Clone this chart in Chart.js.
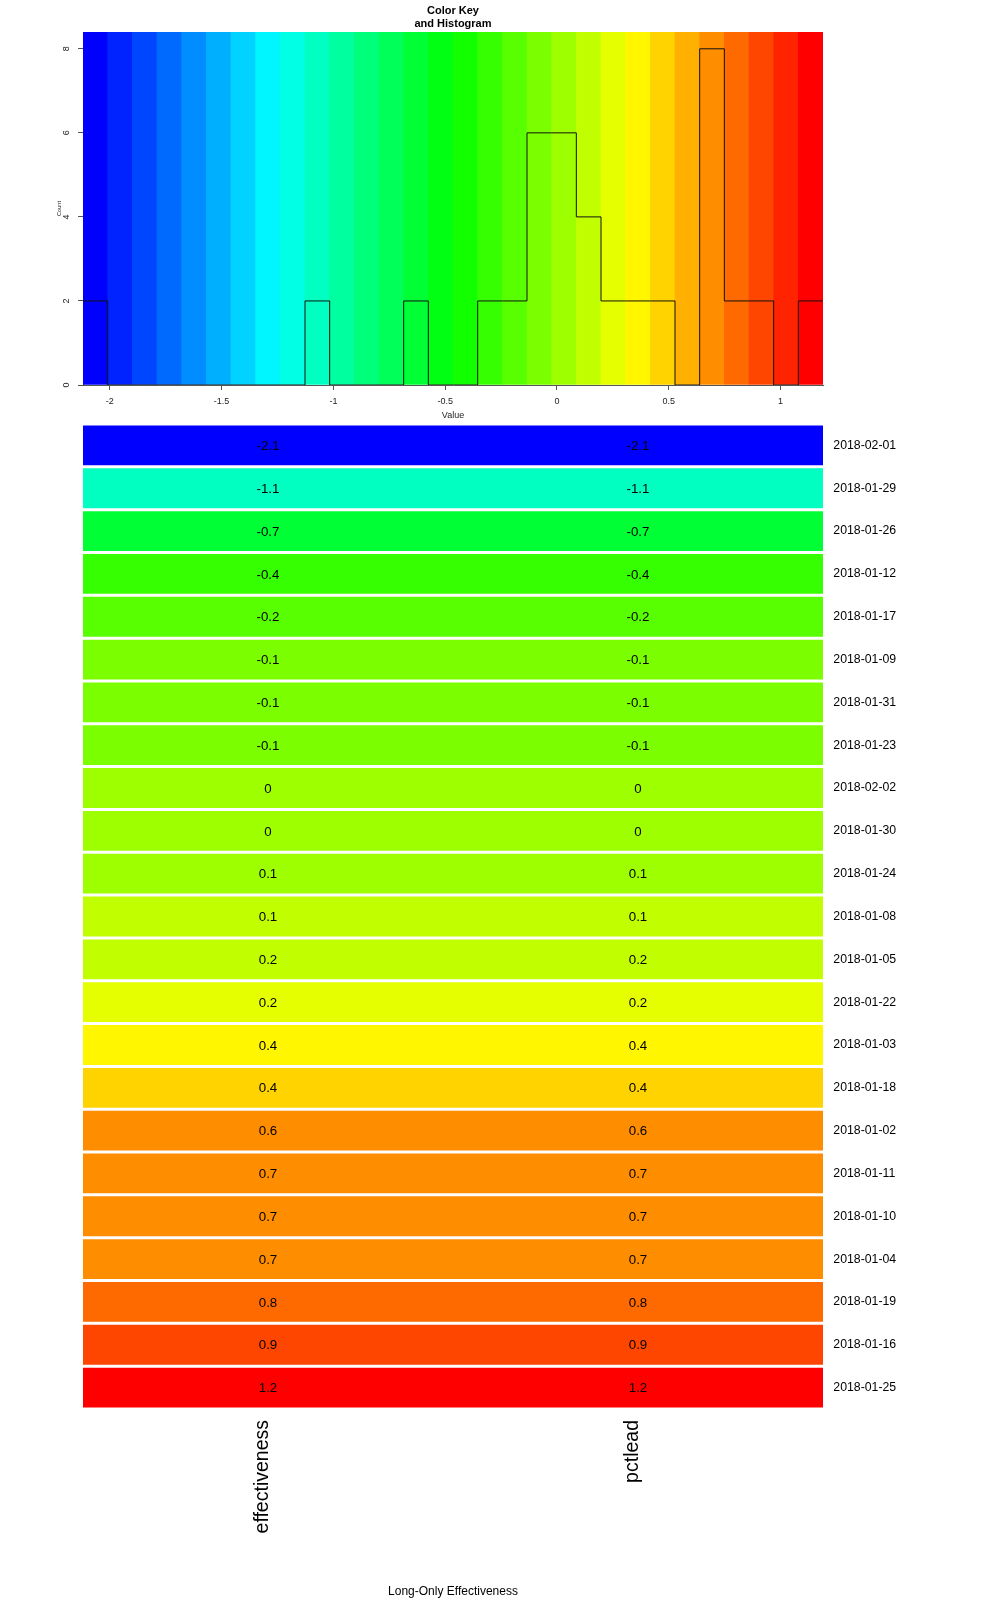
<!DOCTYPE html>
<html>
<head>
<meta charset="utf-8">
<script src="https://cdn.jsdelivr.net/npm/chart.js@4.4.1/dist/chart.umd.min.js"></script>
<style>
  html, body { margin: 0; padding: 0; background: #ffffff; }
  #wrap { position: relative; width: 999px; height: 1600px; overflow: hidden; background: #fff; }
  canvas { position: absolute; left: 0; }
  #key { top: 0; }
  #heat { top: 410px; }
</style>
</head>
<body>
<div id="wrap">
  <canvas id="heat" width="999" height="1190"></canvas>
  <canvas id="key" width="999" height="430"></canvas>
</div>
<script>
// ---------------- data ----------------
const dates = [
  '2018-02-01', '2018-01-29', '2018-01-26', '2018-01-12', '2018-01-17', '2018-01-09',
  '2018-01-31', '2018-01-23', '2018-02-02', '2018-01-30', '2018-01-24', '2018-01-08',
  '2018-01-05', '2018-01-22', '2018-01-03', '2018-01-18', '2018-01-02', '2018-01-11',
  '2018-01-10', '2018-01-04', '2018-01-19', '2018-01-16', '2018-01-25'
];
const effectiveness = [
  -2.12, -1.09, -0.67, -0.352, -0.19, -0.12,
  -0.09, -0.06, -0.01, 0.02, 0.07, 0.12,
  0.16, 0.22, 0.38, 0.43, 0.64, 0.68,
  0.70, 0.72, 0.80, 0.90, 1.19
];
const pctlead = [
  -2.12, -1.09, -0.67, -0.352, -0.19, -0.12,
  -0.09, -0.06, -0.01, 0.02, 0.07, 0.12,
  0.16, 0.22, 0.38, 0.43, 0.64, 0.68,
  0.70, 0.72, 0.80, 0.90, 1.19
];
const columns = ['effectiveness', 'pctlead'];

// colour key: 30 bins between min and max of the data
const keyBreaks = [
  -2.120, -2.0097, -1.8993, -1.7890, -1.6787, -1.5683, -1.4580, -1.3477,
  -1.2373, -1.1270, -1.0167, -0.9063, -0.7960, -0.6857, -0.5753, -0.4650,
  -0.3547, -0.2443, -0.1340, -0.0237, 0.0867, 0.1970, 0.3073, 0.4177,
  0.5280, 0.6383, 0.7487, 0.8590, 0.9693, 1.0797, 1.190
];
const keyColors = [
  '#0000FF', '#0023FF', '#0046FF', '#006AFF', '#008DFF', '#00B0FF', '#00D3FF', '#00F6FF',
  '#00FFE5', '#00FFC1', '#00FF9E', '#00FF7B', '#00FF58', '#00FF35', '#00FF12', '#12FF00',
  '#35FF00', '#58FF00', '#7BFF00', '#9EFF00', '#C1FF00', '#E5FF00', '#FFF600', '#FFD300',
  '#FFB000', '#FF8D00', '#FF6A00', '#FF4600', '#FF2300', '#FF0000'
];
const histCounts = [
  2, 0, 0, 0, 0, 0, 0, 0, 0, 2,
  0, 0, 0, 2, 0, 0, 2, 2, 6, 6,
  4, 2, 2, 2, 0, 8, 2, 2, 0, 2
];
const keyXTicks = [-2, -1.5, -1, -0.5, 0, 0.5, 1];
const keyYTicks = [0, 2, 4, 6, 8];
const keyYMax = 8.4;

// ---------------- helpers ----------------
const FONT = '"Liberation Sans", Arial, Helvetica, sans-serif';
Chart.defaults.font.family = FONT;
Chart.defaults.color = '#000';
Chart.defaults.animation = false;

function colorFor(v) {
  for (let k = 0; k < keyColors.length; k++) {
    if (v >= keyBreaks[k] && v < keyBreaks[k + 1]) return keyColors[k];
  }
  return v < keyBreaks[0] ? keyColors[0] : keyColors[keyColors.length - 1];
}
function fmt(v) { return String(Math.round(v * 10) / 10); }
function noPad(s) { s.paddingTop = 0; s.paddingBottom = 0; s.paddingLeft = 0; s.paddingRight = 0; }

const PLOT_RIGHT_GAP = 176; // chart area right edge at x = 823

// ---------------- colour key + histogram ----------------
const bandData = keyColors.map((c, k) => ({ x: (keyBreaks[k] + keyBreaks[k + 1]) / 2, y: keyYMax }));
const stepData = keyBreaks.map((b, k) => ({ x: b, y: histCounts[Math.min(k, histCounts.length - 1)] }));

const keyYLabels = {
  id: 'keyYLabels',
  afterDraw(chart) {
    const s = chart.scales.y;
    const ctx = chart.ctx;
    ctx.save();
    ctx.font = '9px ' + FONT;
    ctx.fillStyle = '#222';
    ctx.textAlign = 'center';
    ctx.textBaseline = 'middle';
    keyYTicks.forEach(v => {
      const py = s.getPixelForValue(v);
      ctx.save();
      ctx.translate(s.right - 16.3, py);
      ctx.rotate(-Math.PI / 2);
      ctx.fillText(String(v), 0, 0);
      ctx.restore();
    });
    ctx.restore();
  }
};

new Chart(document.getElementById('key'), {
  type: 'bar',
  data: {
    datasets: [
      {
        type: 'line',
        data: stepData,
        stepped: true,
        borderColor: '#111',
        borderWidth: 1,
        pointRadius: 0,
        fill: false,
        order: 0
      },
      {
        type: 'bar',
        data: bandData,
        backgroundColor: keyColors,
        borderWidth: 0,
        barPercentage: 1,
        categoryPercentage: 1,
        order: 1
      }
    ]
  },
  options: {
    responsive: false,
    devicePixelRatio: 1,
    animation: false,
    events: [],
    layout: { padding: { left: 0, right: PLOT_RIGHT_GAP, top: 0, bottom: 0 } },
    plugins: {
      legend: { display: false },
      tooltip: { enabled: false },
      title: {
        display: true,
        text: ['Color Key', 'and Histogram'],
        fullSize: false,
        color: '#000',
        font: { size: 11, weight: 'bold', lineHeight: 13 / 11 },
        padding: { top: 4, bottom: 2 }
      }
    },
    scales: {
      x: {
        type: 'linear',
        position: 'bottom',
        offset: false,
        min: keyBreaks[0],
        max: keyBreaks[keyBreaks.length - 1],
        afterBuildTicks: s => { s.ticks = keyXTicks.map(v => ({ value: v })); },
        afterFit: s => { s.height = 45; noPad(s); },
        ticks: {
          font: { size: 9 },
          color: '#222',
          padding: 6.3,
          maxRotation: 0,
          autoSkip: false,
          callback: v => String(v)
        },
        grid: { display: true, offset: false, drawOnChartArea: false, drawTicks: true, tickLength: 5, color: '#555' },
        border: { display: true, color: '#555' },
        title: { display: true, text: 'Value', color: '#222', font: { size: 9 }, padding: { top: 0, bottom: 8.9 } }
      },
      y: {
        type: 'linear',
        position: 'left',
        min: 0,
        max: keyYMax,
        afterBuildTicks: s => { s.ticks = keyYTicks.map(v => ({ value: v })); },
        afterFit: s => { s.width = 83; noPad(s); },
        ticks: { display: false },
        grid: { display: true, drawOnChartArea: false, drawTicks: true, tickLength: 5, color: '#555' },
        border: { display: true, color: '#555' },
        title: { display: true, text: 'Count', color: '#222', font: { size: 5.6 }, padding: { top: 55.6, bottom: 0 } }
      }
    }
  },
  plugins: [keyYLabels]
});

// ---------------- heatmap ----------------
const cellText = {
  id: 'cellText',
  afterDatasetsDraw(chart) {
    const ctx = chart.ctx;
    ctx.save();
    ctx.font = '13.3px ' + FONT;
    ctx.fillStyle = '#000';
    ctx.textAlign = 'center';
    ctx.textBaseline = 'middle';
    chart.data.datasets.forEach((ds, i) => {
      const meta = chart.getDatasetMeta(i);
      meta.data.forEach((bar, j) => {
        const p = bar.getProps(['x', 'y', 'base'], true);
        ctx.fillText(ds.cellLabels[j], (p.x + p.base) / 2, p.y + 1);
      });
    });
    ctx.restore();
  }
};

const seriesList = [effectiveness, pctlead];
new Chart(document.getElementById('heat'), {
  type: 'bar',
  data: {
    labels: dates,
    datasets: seriesList.map((vals, c) => ({
      label: columns[c],
      data: vals.map(() => [c, c + 1]),
      cellLabels: vals.map(fmt),
      backgroundColor: vals.map(colorFor),
      borderWidth: 0,
      grouped: false,
      barPercentage: 0.93,
      categoryPercentage: 1
    }))
  },
  options: {
    indexAxis: 'y',
    responsive: false,
    devicePixelRatio: 1,
    animation: false,
    events: [],
    layout: { padding: { left: 83, right: 0, top: 14, bottom: 0 } },
    plugins: {
      legend: { display: false },
      tooltip: { enabled: false },
      title: { display: false }
    },
    scales: {
      x: {
        type: 'linear',
        position: 'bottom',
        min: 0,
        max: columns.length,
        afterBuildTicks: s => { s.ticks = columns.map((_, i) => ({ value: i + 0.5 })); },
        afterFit: s => { s.height = 191; noPad(s); },
        ticks: {
          autoSkip: false,
          minRotation: 90,
          maxRotation: 90,
          labelOffset: -5,
          padding: 11,
          font: { size: 19.5 },
          color: '#000',
          callback: (v, i) => columns[i]
        },
        grid: { display: false, drawTicks: false },
        border: { display: false },
        title: { display: true, text: 'Long-Only Effectiveness', color: '#000', font: { size: 12 }, padding: { top: 0, bottom: 1.1 } }
      },
      y: {
        type: 'category',
        position: 'right',
        afterFit: s => { s.width = PLOT_RIGHT_GAP; noPad(s); },
        ticks: { font: { size: 12.3 }, color: '#000', padding: 10.3, autoSkip: false },
        grid: { display: false, drawTicks: false },
        border: { display: false }
      }
    }
  },
  plugins: [cellText]
});
</script>
</body>
</html>
